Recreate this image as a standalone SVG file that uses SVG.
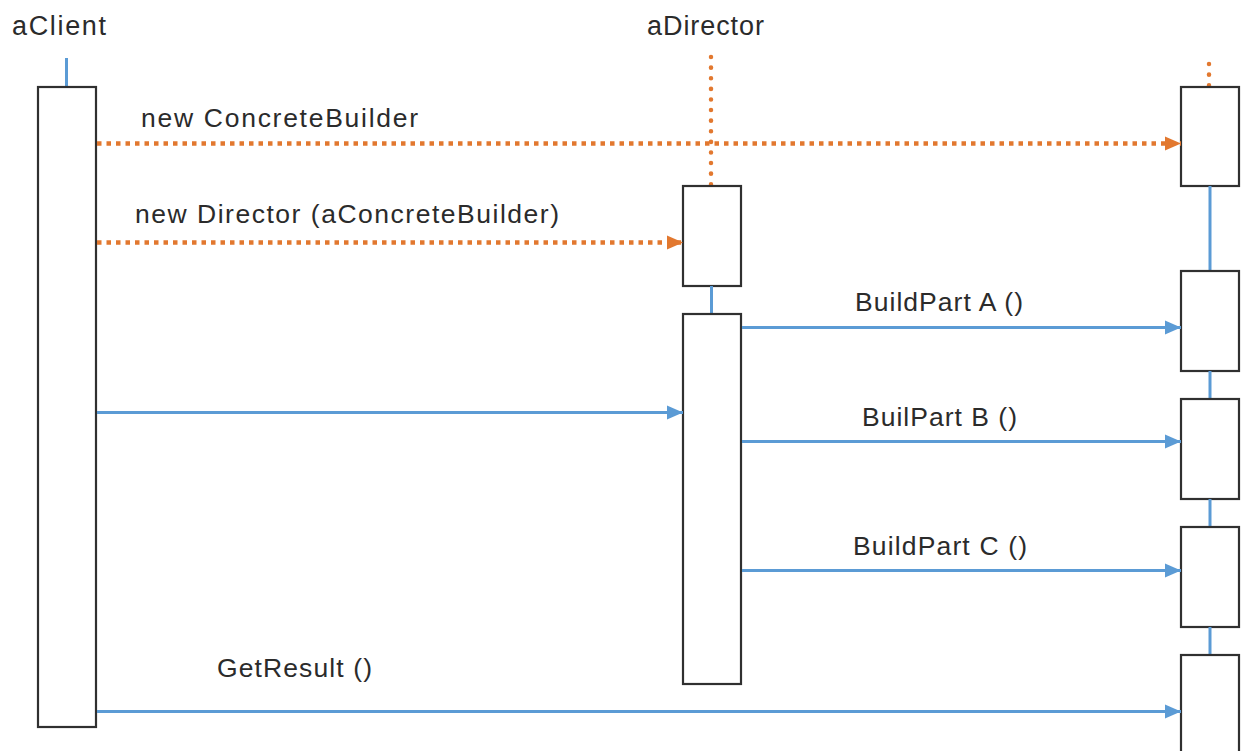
<svg xmlns="http://www.w3.org/2000/svg" width="1243" height="751" viewBox="0 0 1243 751">
<style>
  text { font-family: "Liberation Sans", Arial, sans-serif; fill: #2b2b2b; }
  .hdr { font-size: 27px; }
  .lbl { font-size: 26.5px; }
  .box { fill: #ffffff; stroke: #303030; stroke-width: 2.2; }
  .life { stroke: #5b9bd5; stroke-width: 3; fill: none; }
  .dotv { stroke: #e2782f; stroke-width: 4.5; stroke-linecap: round; stroke-dasharray: 0.1 10.5; fill: none; }
  .msg { stroke: #5b9bd5; stroke-width: 3; fill: none; marker-end: url(#ab); }
  .create { stroke: #e2782f; stroke-width: 4.5; stroke-dasharray: 4.5 5; fill: none; marker-end: url(#ao); }
</style>
<defs>
  <marker id="ab" markerUnits="userSpaceOnUse" markerWidth="18" markerHeight="18" refX="16" refY="9" orient="auto" viewBox="0 0 18 18">
    <path d="M0,2 L16,9 L0,16 Z" fill="#5b9bd5"/>
  </marker>
  <marker id="ao" markerUnits="userSpaceOnUse" markerWidth="18" markerHeight="18" refX="16" refY="9" orient="auto" viewBox="0 0 18 18">
    <path d="M0,2 L16,9 L0,16 Z" fill="#e2782f"/>
  </marker>
</defs>
<rect width="1243" height="751" fill="#ffffff"/>

<g id="aClient">
  <text class="hdr" x="12" y="35" textLength="94" lengthAdjust="spacing">aClient</text>
  <line class="life" x1="66.5" y1="58" x2="66.5" y2="86"/>
  <rect class="box" x="38" y="87" width="58" height="640"/>
</g>

<g id="aDirector">
  <text class="hdr" x="647" y="35" textLength="117" lengthAdjust="spacing">aDirector</text>
  <line class="dotv" x1="711" y1="57" x2="711" y2="186"/>
  <rect class="box" x="683" y="186" width="58" height="100"/>
  <line class="life" x1="711.5" y1="286" x2="711.5" y2="314"/>
  <rect class="box" x="683" y="314" width="58" height="370"/>
</g>

<g id="aConcreteBuilder">
  <line class="dotv" x1="1209" y1="64" x2="1209" y2="87"/>
  <rect class="box" x="1181" y="87" width="58" height="99"/>
  <line class="life" x1="1210" y1="186" x2="1210" y2="271"/>
  <rect class="box" x="1181" y="271" width="58" height="100"/>
  <line class="life" x1="1210" y1="371" x2="1210" y2="399"/>
  <rect class="box" x="1181" y="399" width="58" height="100"/>
  <line class="life" x1="1210" y1="499" x2="1210" y2="527"/>
  <rect class="box" x="1181" y="527" width="58" height="100"/>
  <line class="life" x1="1210" y1="627" x2="1210" y2="655"/>
  <rect class="box" x="1181" y="655" width="58" height="110"/>
</g>

<g id="connectors">
  <path class="create" d="M97,143.5 H1181"/>
  <path class="create" d="M97,242.5 H683"/>
  <path class="msg" d="M742,327.5 H1181"/>
  <path class="msg" d="M97,412.5 H683"/>
  <path class="msg" d="M742,441.5 H1181"/>
  <path class="msg" d="M742,570.5 H1181"/>
  <path class="msg" d="M97,711.5 H1181"/>
</g>

<g id="labels">
  <text class="lbl" x="141" y="127" textLength="277" lengthAdjust="spacing">new ConcreteBuilder</text>
  <text class="lbl" x="135" y="223" textLength="424" lengthAdjust="spacing">new Director (aConcreteBuilder)</text>
  <text class="lbl" x="855" y="311" textLength="168" lengthAdjust="spacing">BuildPart A ()</text>
  <text class="lbl" x="862" y="426" textLength="155" lengthAdjust="spacing">BuilPart B ()</text>
  <text class="lbl" x="853" y="555" textLength="174" lengthAdjust="spacing">BuildPart C ()</text>
  <text class="lbl" x="217" y="677" textLength="155" lengthAdjust="spacing">GetResult ()</text>
</g>
</svg>
